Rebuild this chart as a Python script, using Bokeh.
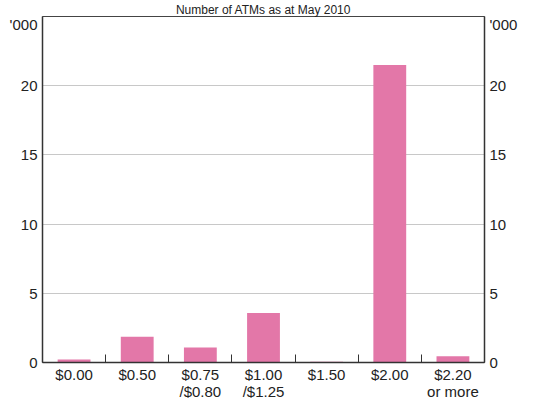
from bokeh.plotting import figure
from bokeh.models import FixedTicker, LinearAxis, Range1d, ColumnDataSource
from bokeh.embed import file_html
from bokeh.resources import INLINE

categories = ["$0.00", "$0.50", "$0.75\n/$0.80", "$1.00\n/$1.25", "$1.50", "$2.00", "$2.20\nor more"]
atms = [0.22, 1.86, 1.08, 3.57, 0.05, 21.5, 0.46]
y_ticks = [0, 5, 10, 15, 20]
title_text = "Number of ATMs as at May 2010"
unit_label = "'000"

FONT = "Liberation Sans"
PINK = "#E377A8"

n = len(categories)
xs = [i + 0.5 for i in range(n)]
src = ColumnDataSource(dict(x=xs, top=atms))

p = figure(width=524, height=402, output_backend="svg", toolbar_location=None,
           x_range=Range1d(0, n), y_range=Range1d(0, 25),
           min_border_left=42, min_border_right=40, min_border_top=0, min_border_bottom=36,
           y_axis_location=None, x_axis_location=None, title=title_text)
p.title.align = "center"
p.title.text_font = FONT
p.title.text_font_size = "12px"
p.title.text_font_style = "normal"
p.title.text_color = "#222222"
p.title.standoff = 0
p.title.offset = 0
p.vbar(x="x", top="top", width=0.52, source=src, color=PINK, line_color=None)

p.outline_line_color = "#444444"
p.outline_line_width = 1
p.xgrid.visible = False
p.ygrid.ticker = FixedTicker(ticks=y_ticks[1:])
p.ygrid.grid_line_color = "#c8c8c8"

xa = LinearAxis(ticker=FixedTicker(ticks=xs, minor_ticks=list(range(1, n))))
xa.major_label_overrides = {x: c for x, c in zip(xs, categories)}
xa.major_tick_in = 0
xa.major_tick_out = 0
xa.minor_tick_in = 8
xa.minor_tick_out = 0
xa.minor_tick_line_color = "#333333"
xa.axis_line_color = "#333333"
xa.axis_line_width = 1.5
xa.major_label_text_font = FONT
xa.major_label_text_font_size = "15px"
xa.major_label_text_line_height = 1.0
xa.major_label_text_color = "#222222"
xa.major_label_standoff = 3
p.add_layout(xa, "below")

label_map = {t: str(t) for t in y_ticks}
label_map[24.45] = unit_label
for side in ("left", "right"):
    ya = LinearAxis(ticker=FixedTicker(ticks=y_ticks + [24.45]))
    ya.major_label_overrides = label_map
    ya.major_tick_in = 0
    ya.major_tick_out = 0
    ya.minor_tick_line_color = None
    ya.axis_line_color = "#333333"
    ya.axis_line_width = 1.5
    ya.major_label_text_font = FONT
    ya.major_label_text_font_size = "15px"
    ya.major_label_text_color = "#222222"
    ya.major_label_standoff = 5
    p.add_layout(ya, side)

open("out.html", "w").write(file_html(p, INLINE))
